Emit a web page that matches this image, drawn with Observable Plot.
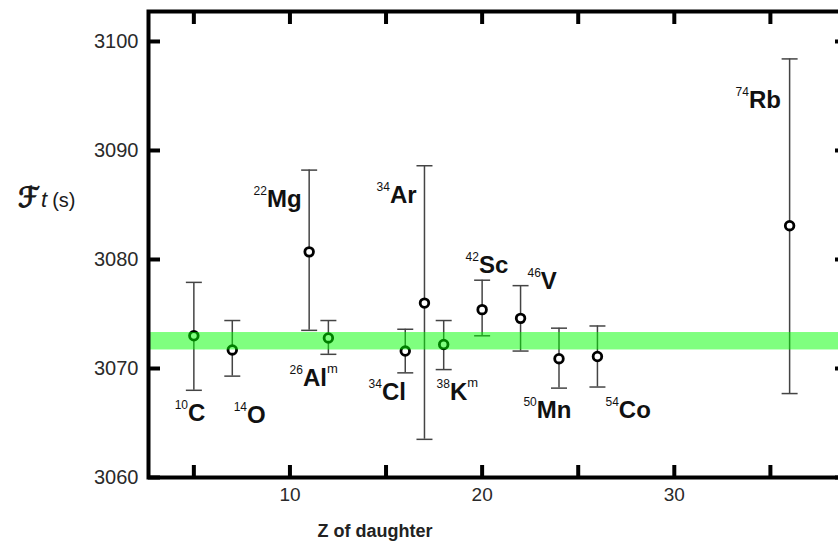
<!DOCTYPE html>
<html><head><meta charset="utf-8">
<script src="https://cdn.jsdelivr.net/npm/d3@7"></script>
<script src="https://cdn.jsdelivr.net/npm/@observablehq/plot@0.6"></script>
<style>
html,body{margin:0;padding:0;background:#fff;overflow:hidden}
#chart{width:838px;height:542px;overflow:hidden;position:relative;background:#fff}
#chart svg{max-width:none !important}
</style></head><body><div id="chart"></div>
<script>
// ---- data ----
const massNumbers = ["10","14","22","26","34","34","38","42","46","50","54","74"];
const symbols     = ["C","O","Mg","Al","Cl","Ar","K","Sc","V","Mn","Co","Rb"];
const isomer      = ["","","","m","","","m","","","","",""];
const zDaughter   = [5,7,11,12,16,17,18,20,22,24,26,36];
const ftValue     = [3073.0,3071.7,3080.7,3072.8,3071.6,3076.0,3072.2,3075.4,3074.6,3070.9,3071.1,3083.1];
const ftLow       = [3068.0,3069.3,3073.5,3071.3,3069.6,3063.5,3069.9,3073.0,3071.6,3068.2,3068.3,3067.7];
const ftHigh      = [3077.9,3074.4,3088.2,3074.4,3073.6,3088.6,3074.4,3078.1,3077.6,3073.7,3073.9,3098.4];
// label anchors (left edge / baseline), in data units
const labelZ      = [4.00,7.07,8.11,9.98,14.09,14.51,17.63,19.14,22.36,22.15,26.42,33.19];
const labelFt     = [3065.2,3065.0,3084.8,3068.4,3067.1,3085.2,3067.1,3078.8,3077.3,3065.5,3065.5,3093.9];
// world-average band
const bandLow = 3071.7, bandHigh = 3073.3;
const yTicks = [3060,3070,3080,3090,3100];
const xTicks = [5,10,15,20,25,30,35];
const xTickLabels = [10,20,30];

const data = zDaughter.map((z,i)=>({z, ft: ftValue[i], lo: ftLow[i], hi: ftHigh[i],
  mass: massNumbers[i], sym: symbols[i], iso: isomer[i], lx: labelZ[i], ly: labelFt[i]}));

const capSymbol = {draw(ctx, size){ const h = Math.sqrt(size/Math.PI); ctx.moveTo(-h,0); ctx.lineTo(h,0); }};
const noText = () => "";
const FONT = "'Liberation Sans', Arial, Helvetica, sans-serif";

const plot = Plot.plot({
  width: 850, height: 542,
  marginLeft: 148, marginRight: 4, marginTop: 11, marginBottom: 65,
  x: {domain: [2.64, 38.96]},
  y: {domain: [3060, 3102.75]},
  style: {fontFamily: FONT, background: "#fff", overflow: "visible"},
  marks: [
    Plot.ruleX(data, {x: "z", y1: "lo", y2: "hi", stroke: "#444", strokeWidth: 1.5}),
    Plot.dot(data, {x: "z", y: "lo", symbol: capSymbol, r: 8, stroke: "#444", strokeWidth: 1.5, fill: "none"}),
    Plot.dot(data, {x: "z", y: "hi", symbol: capSymbol, r: 8, stroke: "#444", strokeWidth: 1.5, fill: "none"}),
    Plot.dot(data, {x: "z", y: "ft", r: 4.3, stroke: "#000", strokeWidth: 2.8, fill: "#fff"}),
    Plot.rect([{lo: bandLow, hi: bandHigh}], {y1: "lo", y2: "hi", fill: "#00ff00", fillOpacity: 0.5}),
    Plot.text(data, {x: "lx", y: "ly", text: d => `${d.mass}|${d.sym}|${d.iso}`,
      textAnchor: "start", lineAnchor: "bottom", fontSize: 24, fontWeight: "bold", fill: "#111"}),
    Plot.frame({stroke: "#000", strokeWidth: 4}),
    Plot.axisY({ticks: yTicks, anchor: "left", tickSize: -12, strokeWidth: 4, stroke: "#000", tickFormat: noText, label: null}),
    Plot.axisY({ticks: yTicks, anchor: "right", tickSize: -12, strokeWidth: 4, stroke: "#000", tickFormat: noText, label: null}),
    Plot.axisX({ticks: xTicks, anchor: "bottom", tickSize: -12, strokeWidth: 4, stroke: "#000", tickFormat: noText, label: null}),
    Plot.axisX({ticks: xTicks, anchor: "top", tickSize: -12, strokeWidth: 4, stroke: "#000", tickFormat: noText, label: null}),
    Plot.text(yTicks, {y: d => d, text: d => String(d), frameAnchor: "left", dx: -10, textAnchor: "end", fontSize: 20, fill: "#2a2a2a"}),
    Plot.text(xTickLabels, {x: d => d, text: d => String(d), frameAnchor: "bottom", lineAnchor: "top", dy: 10, fontSize: 19, fill: "#2a2a2a"})
  ]
});
plot.style.maxWidth = "none";
plot.style.height = "542px";
document.getElementById("chart").appendChild(plot);
const svg = d3.select(plot);

// superscripted nuclide labels
svg.selectAll("text").each(function(){
  if (!this.textContent.includes("|")) return;
  const parts = this.textContent.split("|");
  const t = d3.select(this);
  t.text(null);
  t.append("tspan").attr("font-size", 12).attr("font-weight", "normal").attr("dy", -12).text(parts[0]);
  t.append("tspan").attr("font-size", 24).attr("dy", 12).text(parts[1]);
  if (parts[2]) t.append("tspan").attr("font-size", 13).attr("font-weight", "normal").attr("dy", -13).text(parts[2]);
});

// axis titles
const yTitle = svg.append("text").attr("x", 18).attr("y", 207).attr("text-anchor", "start")
  .attr("font-family", FONT).attr("font-size", 20).attr("fill", "#1a1a1a");
yTitle.append("tspan").attr("font-size", 28).attr("font-family", "'DejaVu Sans', sans-serif")
  .attr("stroke", "#1a1a1a").attr("stroke-width", 1.2).text("ℱ");
yTitle.append("tspan").attr("font-style", "italic").attr("font-size", 22).attr("dx", 1).text("t");
yTitle.append("tspan").attr("dx", 5).text("(s)");

svg.append("text").attr("x", 375).attr("y", 537).attr("text-anchor", "middle")
  .attr("font-family", FONT).attr("font-size", 18).attr("font-weight", "bold").attr("fill", "#222")
  .text("Z of daughter");
</script></body></html>
